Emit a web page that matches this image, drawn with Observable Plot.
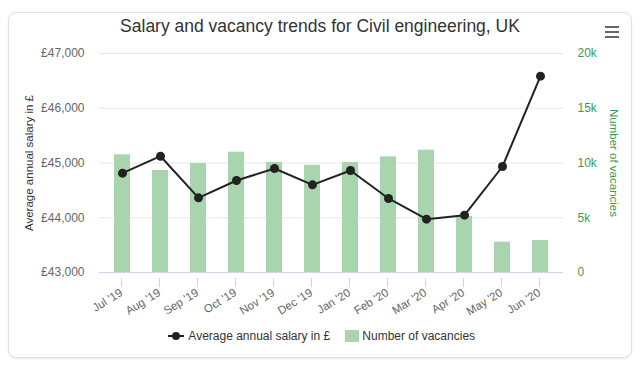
<!DOCTYPE html>
<html>
<head>
<meta charset="utf-8">
<script src="https://cdn.jsdelivr.net/npm/d3@7"></script>
<script src="https://cdn.jsdelivr.net/npm/@observablehq/plot@0.6"></script>
<style>
  html, body { margin: 0; padding: 0; background: #fff; width: 640px; height: 371px; overflow: hidden; font-family: "Liberation Sans", Arial, sans-serif; }
  #card { position: absolute; left: 8px; top: 12px; width: 622px; height: 344px; border: 1px solid #e0e0e0; border-radius: 8px; box-shadow: 0 1px 2px rgba(0,0,0,0.08); background: #fff; }
  #title { position: absolute; left: 0; top: 16px; width: 640px; text-align: center; font-size: 17.5px; color: #333; }
  #menu { position: absolute; left: 605px; top: 26px; width: 14px; }
  #menu div { height: 2px; background: #666; margin-bottom: 3px; }
  #chart { position: absolute; left: 0; top: 0; }
  #legend { position: absolute; top: 328px; left: 0; width: 640px; font-size: 12px; color: #333; }
  .li { position: absolute; top: 0; white-space: nowrap; }
</style>
</head>
<body>
<div id="card"></div>
<div id="title">Salary and vacancy trends for Civil engineering, UK</div>
<div id="menu"><div></div><div></div><div></div></div>
<div id="chart"></div>
<div id="legend">
  <div class="li" style="left:167px;">
    <svg width="18" height="14" style="vertical-align:middle"><line x1="1" x2="17" y1="7" y2="7" stroke="#222" stroke-width="2"/><circle cx="9" cy="7" r="4" fill="#222"/></svg>
    <span style="vertical-align:middle">Average annual salary in £</span>
  </div>
  <div class="li" style="left:345px;">
    <svg width="14" height="14" style="vertical-align:middle"><rect x="0" y="1" width="14" height="12" fill="#a8d5ad"/></svg>
    <span style="vertical-align:middle">Number of vacancies</span>
  </div>
</div>
<script>
const months = ["Jul '19","Aug '19","Sep '19","Oct '19","Nov '19","Dec '19","Jan '20","Feb '20","Mar '20","Apr '20","May '20","Jun '20"];
const salary = [44814, 45124, 44364, 44680, 44900, 44601, 44863, 44352, 43974, 44047, 44936, 46586];
const vacancies = [10750, 9315, 9954, 10986, 10046, 9799, 10046, 10566, 11169, 5114, 2767, 2922];
const salaryTicks = [43000, 44000, 45000, 46000, 47000];
const vacancyTicks = [0, 5000, 10000, 15000, 20000];

const salMin = 43000, salMax = 47000, vacMax = 20000;
const vacToSal = v => salMin + v / vacMax * (salMax - salMin);

const rows = months.map((m, i) => ({month: m, salary: salary[i], vac: vacancies[i]}));

const green = "#3d9a50";

const plot = Plot.plot({
  width: 640,
  height: 322,
  marginLeft: 99,
  marginRight: 77,
  marginTop: 53,
  marginBottom: 50,
  style: {background: "transparent", fontFamily: "Liberation Sans, Arial, sans-serif"},
  x: {type: "band", domain: months, padding: 0, label: null},
  y: {domain: [salMin, salMax], label: null},
  marks: [
    Plot.ruleY(salaryTicks.slice(1), {stroke: "#e6e6e6", strokeWidth: 1}),
    Plot.barY(rows, {x: "month", y1: () => salMin, y2: d => vacToSal(d.vac), fill: "#a8d5ad", insetLeft: 11, insetRight: 11}),
    Plot.ruleY([salMin], {stroke: "#ccd6eb", strokeWidth: 1}),
    Plot.axisX({tickSize: 9, stroke: "#ccd6eb", tickPadding: 4, tickRotate: -32, fontSize: 11.5, fill: "#666", textAnchor: "end", dy: 6, dx: -1}),
    Plot.axisY({anchor: "left", ticks: salaryTicks, tickSize: 0, tickPadding: 15, fontSize: 12, fill: "#666",
      tickFormat: d => "£" + d3.format(",")(d), label: null}),
    Plot.axisY({anchor: "right", ticks: vacancyTicks.map(vacToSal), tickSize: 0, tickPadding: 14, fontSize: 12, fill: green,
      tickFormat: (d) => { const v = Math.round((d - salMin) / (salMax - salMin) * vacMax); return v === 0 ? "0" : (v / 1000) + "k"; }, label: null}),
    Plot.line(rows, {x: "month", y: "salary", stroke: "#222", strokeWidth: 2}),
    Plot.dot(rows, {x: "month", y: "salary", fill: "#222", r: 4.5}),
    Plot.text(["Average annual salary in £"], {frameAnchor: "left", textAnchor: "middle", dx: -70, rotate: -90, fontSize: 11.5, fill: "#333"}),
    Plot.text(["Number of vacancies"], {frameAnchor: "right", textAnchor: "middle", dx: 50, rotate: 90, fontSize: 11.5, fill: green})
  ]
});
document.getElementById("chart").appendChild(plot);
</script>
</body>
</html>
